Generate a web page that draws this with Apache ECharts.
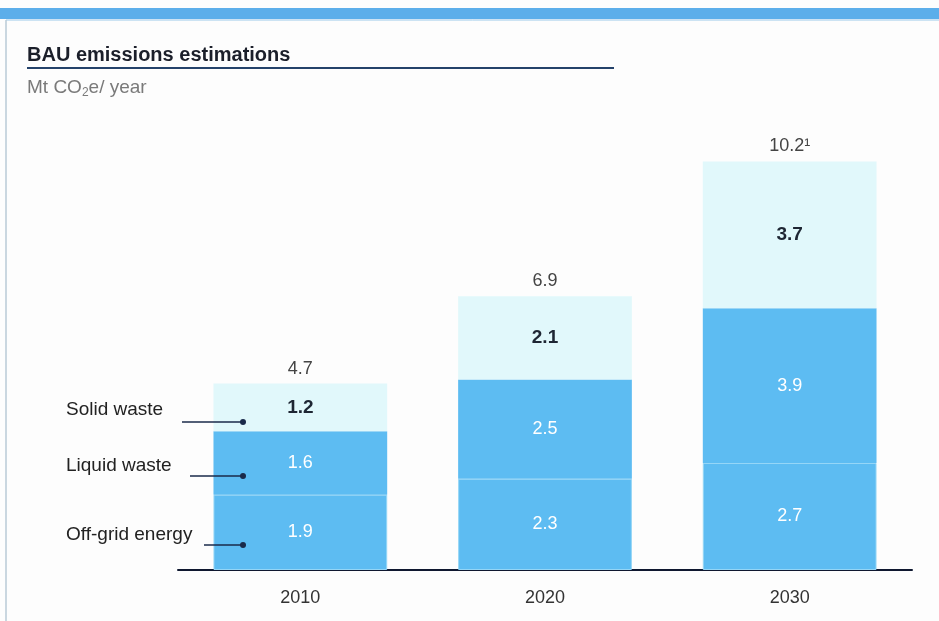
<!DOCTYPE html>
<html>
<head>
<meta charset="utf-8">
<style>
  html, body { margin: 0; padding: 0; background: #fdfdfd; }
  #chart { width: 939px; height: 621px; }
</style>
<script src="https://cdn.jsdelivr.net/npm/echarts@6/dist/echarts.min.js"></script>
</head>
<body>
<div id="chart"></div>
<script>
// Business-as-usual emissions by source, Mt CO2e per year
const years = ['2010', '2020', '2030'];
const offGridEnergy = [1.9, 2.3, 2.7];
const liquidWaste = [1.6, 2.5, 3.9];
const solidWaste = [1.2, 2.1, 3.7];
const totals = [4.7, 6.9, 10.2];
const totalLabels = ['4.7', '6.9', '10.2\u00B9'];
const sourceNames = ['Solid waste', 'Liquid waste', 'Off-grid energy'];

const FONT = '"Liberation Sans", Arial, Helvetica, sans-serif';
const BLUE = '#5dbcf2';
const PALE = '#e1f8fb';
const INK = '#1a2a4a';

const chart = echarts.init(document.getElementById('chart'), null, { renderer: 'canvas' });

const innerLabel = {
  show: true,
  position: 'inside',
  color: '#ffffff',
  fontFamily: FONT,
  fontSize: 18,
  formatter: p => p.value.toFixed(1)
};

// leader line with a dot at its end, drawn above the bars
function leader(x1, x2, y) {
  return [
    { type: 'line', z: 100, shape: { x1: x1, y1: y, x2: x2, y2: y }, style: { stroke: INK, lineWidth: 1.5 } },
    { type: 'circle', z: 100, shape: { cx: x2, cy: y, r: 3 }, style: { fill: INK } }
  ];
}

function sideText(text, x, y) {
  return { type: 'text', z: 100,
    style: { x: x, y: y, text: text, fill: '#222', font: '19px ' + FONT, verticalAlign: 'middle' } };
}

chart.setOption({
  backgroundColor: '#fdfdfd',
  animation: false,
  grid: { left: 178, right: 27, top: 94, bottom: 51 },
  xAxis: {
    type: 'category',
    data: years,
    axisTick: { show: false },
    axisLine: { lineStyle: { color: '#0f1830', width: 2 } },
    axisLabel: { color: '#333', fontFamily: FONT, fontSize: 18, margin: 19 }
  },
  yAxis: { type: 'value', min: 0, max: 12, show: false, splitLine: { show: false } },
  series: [
    {
      name: sourceNames[2], type: 'bar', stack: 'bau', data: offGridEnergy,
      barCategoryGap: '29%',
      itemStyle: { color: BLUE, borderColor: '#93d5f6', borderWidth: 1 },
      label: innerLabel
    },
    {
      name: sourceNames[1], type: 'bar', stack: 'bau', data: liquidWaste,
      itemStyle: { color: BLUE },
      label: innerLabel
    },
    {
      name: sourceNames[0], type: 'bar', stack: 'bau', data: solidWaste,
      itemStyle: { color: PALE },
      label: {
        show: true, position: 'inside', color: '#1e2633',
        fontFamily: FONT, fontSize: 19, fontWeight: 'bold',
        formatter: p => p.value.toFixed(1)
      }
    },
    {
      // invisible cap that carries the total above each stack
      name: 'Total', type: 'bar', stack: 'bau', data: totals.map(() => 0),
      itemStyle: { color: 'transparent' },
      label: {
        show: true, position: 'top', distance: 6, color: '#444',
        fontFamily: FONT, fontSize: 18,
        formatter: p => totalLabels[p.dataIndex]
      }
    }
  ],
  graphic: [
    // header band and frame
    { type: 'rect', shape: { x: 0, y: 8, width: 939, height: 11 }, style: { fill: '#5caeea' } },
    { type: 'line', shape: { x1: 6, y1: 20, x2: 939, y2: 20 }, style: { stroke: '#9cc9ea', lineWidth: 1 } },
    { type: 'line', shape: { x1: 6, y1: 20, x2: 6, y2: 621 }, style: { stroke: '#b9cad6', lineWidth: 1.5 } },
    // title block
    { type: 'text',
      style: { x: 27, y: 55, text: 'BAU emissions estimations', fill: '#1b1f2a',
               font: '600 20px ' + FONT, verticalAlign: 'middle' } },
    { type: 'line', shape: { x1: 27, y1: 68, x2: 614, y2: 68 }, style: { stroke: '#24426a', lineWidth: 2 } },
    { type: 'text',
      style: {
        x: 27, y: 88, verticalAlign: 'middle',
        text: 'Mt CO{sub|2}e/ year', fill: '#7a7a7a', font: '19px ' + FONT,
        rich: { sub: { fontSize: 12, fill: '#7a7a7a', padding: [9, 0, 0, 0], fontFamily: FONT } }
      } },
    // source labels with leader lines into the 2010 stack
    sideText(sourceNames[0], 66, 410),
    ...leader(182, 243, 422),
    sideText(sourceNames[1], 66, 466),
    ...leader(190, 243, 476),
    sideText(sourceNames[2], 66, 535),
    ...leader(204, 243, 545)
  ]
});
</script>
</body>
</html>
